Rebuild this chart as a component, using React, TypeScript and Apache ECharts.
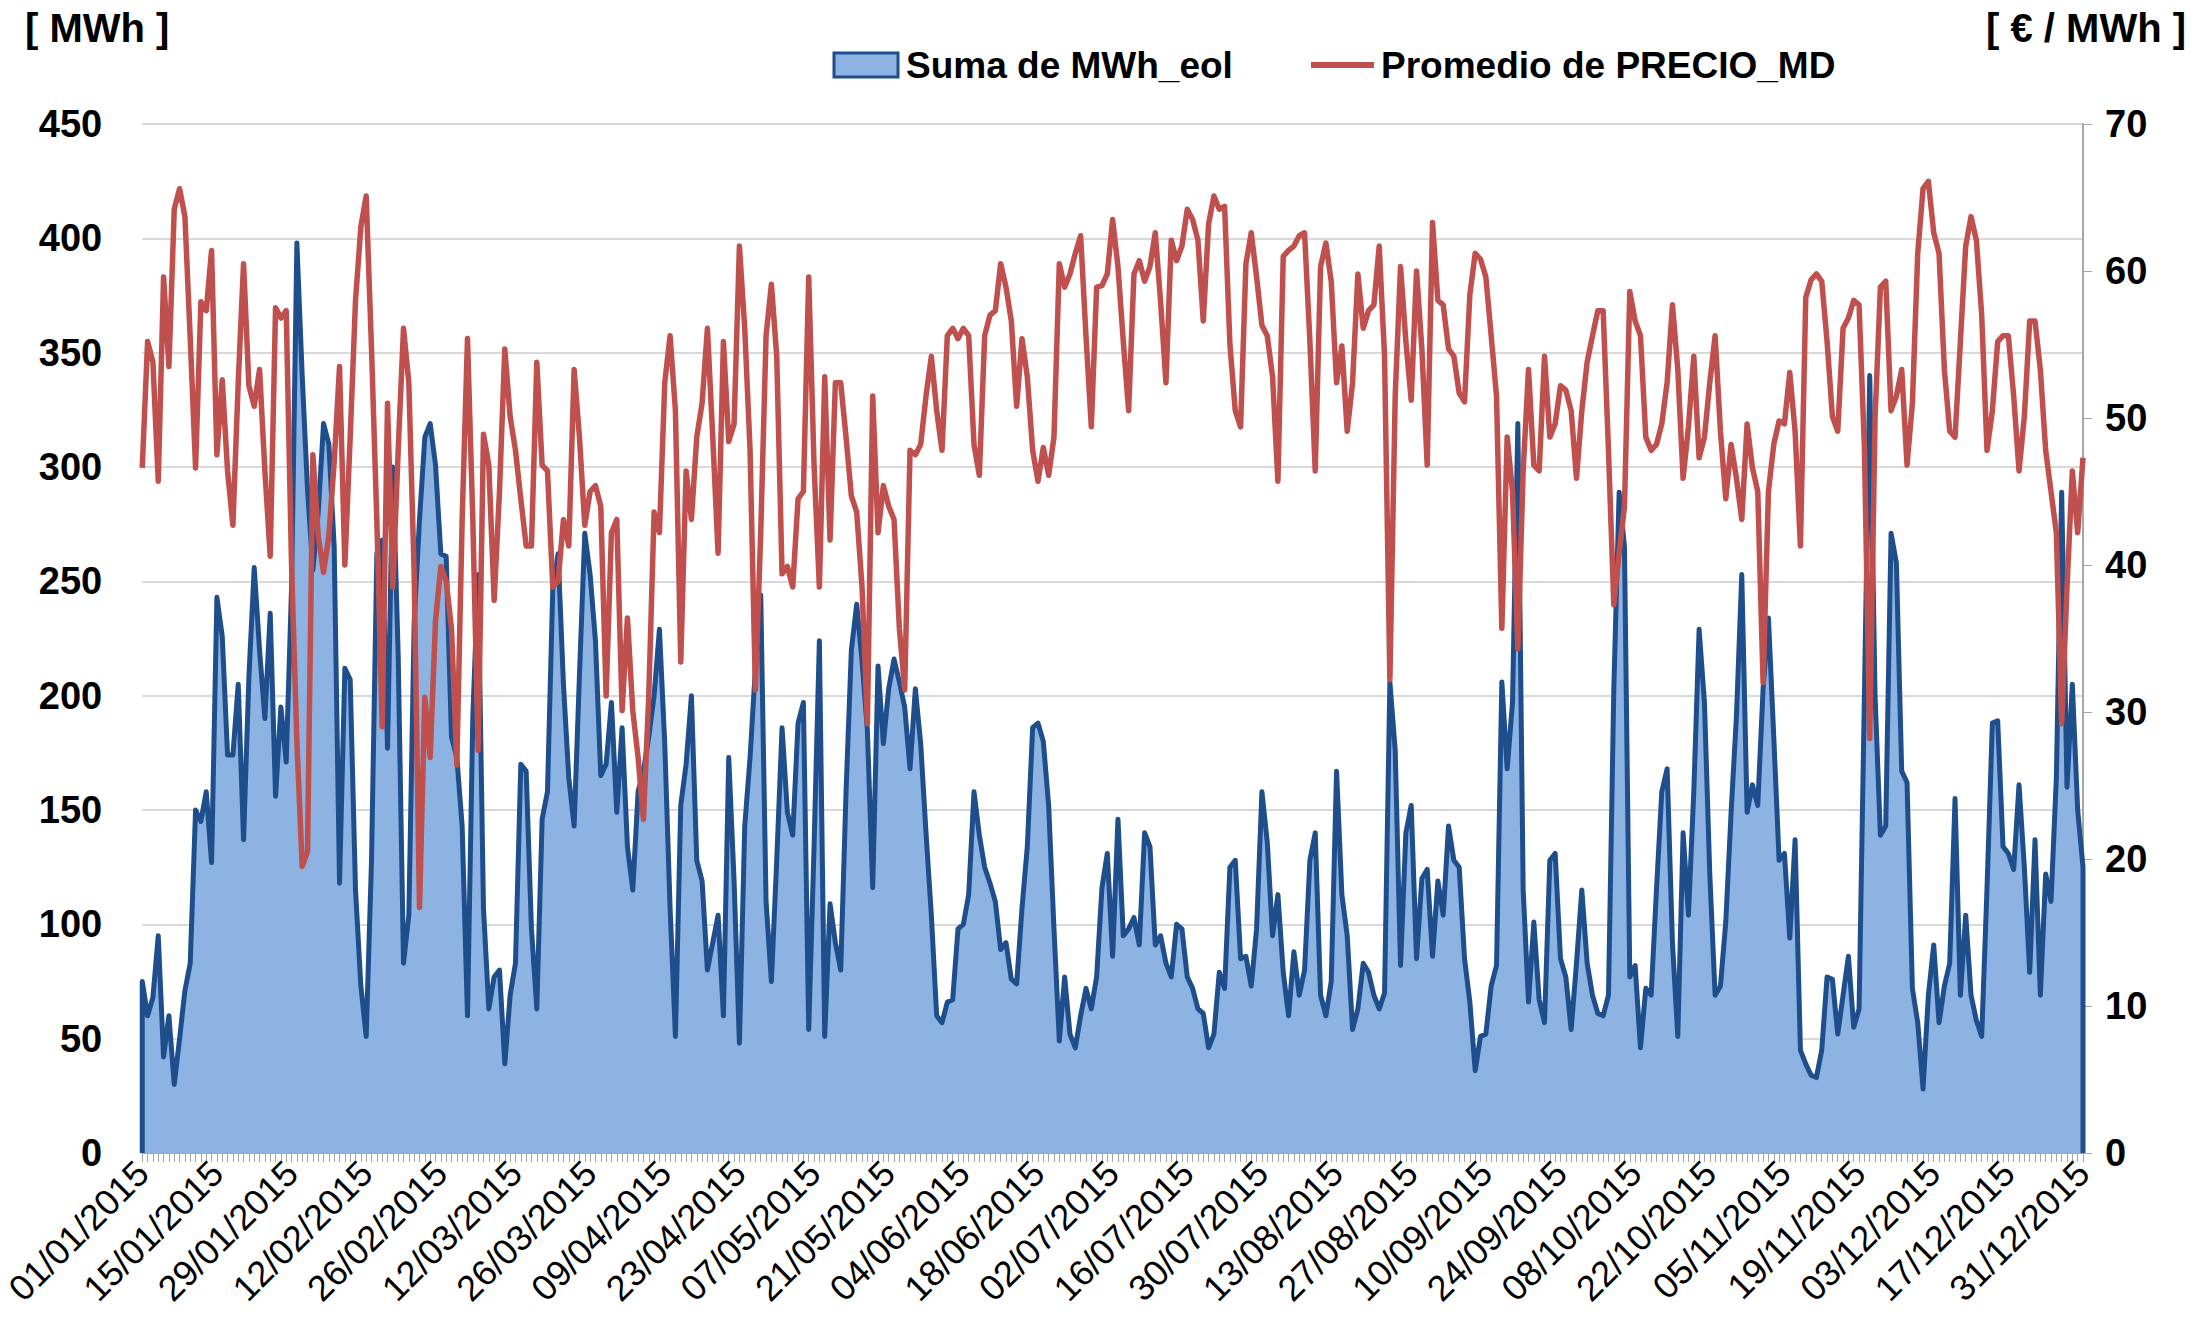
import React, { useEffect, useRef } from "react";
import * as echarts from "echarts";

const tickLabels = [
  "01/01/2015", "15/01/2015", "29/01/2015", "12/02/2015", "26/02/2015", "12/03/2015",
  "26/03/2015", "09/04/2015", "23/04/2015", "07/05/2015", "21/05/2015", "04/06/2015",
  "18/06/2015", "02/07/2015", "16/07/2015", "30/07/2015", "13/08/2015", "27/08/2015",
  "10/09/2015", "24/09/2015", "08/10/2015", "22/10/2015", "05/11/2015", "19/11/2015",
  "03/12/2015", "17/12/2015", "31/12/2015",
];

const mwhEol = [
  75, 60, 68, 95, 42, 60, 30, 50, 71, 83,
  150, 145, 158, 127, 243, 226, 174, 174, 205, 137,
  208, 256, 220, 190, 236, 156, 195, 171, 247, 398,
  340, 290, 255, 280, 319, 310, 265, 118, 212, 207,
  115, 73, 51, 128, 262, 268, 177, 300, 218, 83,
  104, 232, 277, 313, 319, 301, 262, 261, 182, 173,
  143, 60, 191, 253, 107, 63, 77, 80, 39, 69,
  83, 170, 167, 98, 63, 146, 158, 247, 262, 205,
  164, 143, 209, 271, 253, 224, 165, 170, 197, 149,
  186, 134, 115, 158, 167, 182, 200, 229, 179, 107,
  51, 152, 170, 200, 128, 119, 80, 92, 104, 60,
  173, 119, 48, 143, 173, 212, 244, 110, 75, 128,
  186, 149, 139, 188, 197, 54, 134, 224, 51, 109,
  92, 80, 158, 220, 240, 215, 185, 116, 213, 179,
  203, 216, 206, 195, 168, 203, 179, 140, 104, 60,
  57, 66, 67, 98, 100, 113, 158, 139, 125, 118,
  110, 89, 92, 76, 74, 107, 134, 186, 188, 180,
  152, 98, 49, 77, 52, 46, 60, 72, 63, 77,
  116, 131, 86, 146, 95, 98, 103, 91, 140, 134,
  91, 95, 83, 77, 100, 98, 77, 72, 63, 61,
  46, 52, 79, 72, 125, 128, 85, 86, 73, 98,
  158, 136, 95, 113, 79, 60, 88, 69, 80, 128,
  140, 69, 60, 75, 167, 113, 95, 54, 63, 83,
  79, 69, 63, 70, 206, 176, 82, 140, 152, 85,
  120, 124, 86, 119, 104, 143, 128, 125, 85, 66,
  36, 51, 52, 73, 82, 206, 168, 197, 319, 115,
  66, 101, 67, 57, 128, 131, 85, 77, 54, 83,
  115, 83, 69, 61, 60, 69, 203, 289, 265, 77,
  82, 46, 72, 69, 115, 158, 168, 92, 51, 140,
  104, 158, 229, 197, 122, 69, 73, 101, 149, 191,
  253, 149, 161, 152, 203, 234, 182, 128, 131, 94,
  137, 45, 39, 34, 33, 45, 77, 76, 52, 69,
  86, 55, 63, 200, 340, 200, 139, 143, 271, 258,
  167, 162, 72, 57, 28, 69, 91, 57, 73, 83,
  155, 69, 104, 69, 58, 51, 116, 188, 189, 134,
  131, 124, 161, 125, 79, 137, 69, 122, 110, 164,
  289, 160, 205, 150, 125,
];

const precioMD = [
  46.6, 55.2, 53.8, 45.7, 59.6, 53.5, 64.2, 65.6, 63.7, 55.4,
  46.6, 57.9, 57.3, 61.4, 47.5, 52.6, 46.4, 42.7, 52.4, 60.5,
  52.2, 50.8, 53.3, 46.4, 40.6, 57.5, 56.8, 57.3, 40, 28,
  19.5, 20.5, 47.5, 42, 39.5, 42, 47, 53.5, 40, 48.7,
  58, 63, 65.1, 54.7, 43, 29, 51, 38.5, 47.8, 56.1,
  52.4, 39.4, 16.7, 31, 26.9, 36.2, 39.9, 38.9, 35.7, 26.4,
  43.1, 55.4, 43.1, 27.4, 48.9, 46.8, 37.6, 45, 54.7, 50.1,
  47.8, 44.5, 41.3, 41.3, 53.8, 46.8, 46.4, 38.5, 38.9, 43.1,
  41.3, 53.3, 48.7, 42.7, 45, 45.4, 44, 31.1, 42.2, 43.1,
  30.1, 36.4, 30.1, 26.9, 22.7, 31.1, 43.6, 42.2, 52.4, 55.6,
  50.5, 33.4, 46.4, 43.1, 48.7, 51, 56.1, 48.7, 40.8, 55.2,
  48.4, 49.6, 61.7, 56.1, 47.8, 31.5, 42.2, 55.6, 59.1, 54.2,
  39.4, 39.9, 38.5, 44.5, 45, 59.6, 46.8, 38.5, 52.8, 41.7,
  52.4, 52.4, 48.7, 44.7, 43.6, 38.5, 29.2, 51.5, 42.2, 45.4,
  44, 43.1, 35.7, 31.5, 47.8, 47.5, 48.2, 51.5, 54.2, 50.5,
  47.8, 55.6, 56.1, 55.4, 56.1, 55.6, 48.2, 46.1, 55.6, 57,
  57.3, 60.5, 58.9, 56.6, 50.8, 55.4, 52.8, 47.8, 45.7, 48,
  46.1, 48.7, 60.5, 58.9, 59.8, 61.2, 62.4, 55.6, 49.4, 58.9,
  59, 59.8, 63.5, 60.3, 55.2, 50.5, 59.8, 60.7, 59.3, 60.3,
  62.6, 57.9, 52.4, 62.1, 60.7, 61.7, 64.2, 63.5, 62.1, 56.6,
  63.2, 65.1, 64.2, 64.4, 55, 50.5, 49.4, 60.5, 62.6, 59.6,
  56.3, 55.6, 52.8, 45.7, 61, 61.4, 61.7, 62.4, 62.6, 55.2,
  46.4, 60.3, 61.9, 59.3, 52.4, 54.9, 49.1, 52.4, 59.8, 56.1,
  57.3, 57.7, 61.7, 54.2, 32.2, 51.5, 60.3, 55.2, 51.2, 60,
  54.7, 46.8, 63.3, 58, 57.7, 54.7, 54.2, 51.7, 51.1, 58.4,
  61.2, 60.8, 59.6, 55.6, 51.5, 35.7, 48.7, 45, 34.3, 46.4,
  53.3, 46.8, 46.4, 54.2, 48.7, 49.6, 52.2, 51.9, 50.5, 45.9,
  50.5, 53.8, 55.6, 57.3, 57.3, 47.8, 37.3, 40.8, 44, 58.6,
  56.6, 55.6, 48.7, 47.8, 48.2, 49.6, 52.4, 57.7, 53.3, 45.9,
  49.4, 54.2, 47.3, 48.7, 52.4, 55.6, 49.1, 44.5, 48.2, 45.9,
  43.1, 49.6, 46.6, 45, 32, 45, 48.2, 49.8, 49.6, 53.1,
  49.1, 41.3, 58.2, 59.4, 59.8, 59.3, 55.2, 50.1, 49.1, 56.1,
  56.8, 58, 57.7, 48, 28.2, 50, 58.9, 59.3, 50.5, 51.5,
  53.3, 46.8, 51, 61.2, 65.6, 66.1, 62.6, 61.2, 53.3, 49.1,
  48.7, 55.2, 61.7, 63.7, 62.1, 57, 47.8, 50.5, 55.2, 55.6,
  55.6, 51.5, 46.4, 50.1, 56.6, 56.6, 53.3, 47.8, 45, 42.2,
  29.2, 38.5, 46.4, 42.2, 47.3,
];

const FONT = "'Liberation Sans', Arial, Helvetica, sans-serif";
const BLUE_FILL = "#8DB3E2";
const BLUE_LINE = "#1F4E8C";
const RED = "#C0504D";
const AXIS_GRAY = "#A6A6A6";

export default function App() {
  const ref = useRef<HTMLDivElement>(null);

  useEffect(() => {
    if (!ref.current) return;
    const chart = echarts.init(ref.current, null, { renderer: "svg" });
    const last = mwhEol.length - 1;
    const areaData = [[0, 0], ...mwhEol.map((v, i) => [i, v]), [last, 0]];
    const lineData = precioMD.map((v, i) => [i, v]);

    chart.setOption({
      animation: false,
      backgroundColor: "#ffffff",
      grid: { left: 141, right: 127, top: 124, bottom: 164, containLabel: false },
      xAxis: {
        type: "value",
        min: 0,
        max: last,
        interval: 14,
        axisLine: { show: true, lineStyle: { color: AXIS_GRAY, width: 2 } },
        axisTick: { show: true, length: 9, lineStyle: { color: AXIS_GRAY, width: 1 } },
        minorTick: { show: true, splitNumber: 14, length: 9, lineStyle: { color: AXIS_GRAY, width: 1 } },
        splitLine: { show: false },
        minorSplitLine: { show: false },
        axisLabel: {
          rotate: 45,
          margin: 14,
          fontSize: 36,
          color: "#000",
          fontFamily: FONT,
          formatter: (v: number) => tickLabels[Math.round(v / 14)] ?? "",
        },
      },
      yAxis: [
        {
          type: "value",
          min: 0,
          max: 450,
          interval: 50,
          axisLine: { show: false },
          axisTick: { show: false },
          splitLine: { show: true, lineStyle: { color: "#D9D9D9", width: 2 } },
          axisLabel: {
            margin: 40,
            fontSize: 38,
            fontWeight: "bold",
            color: "#000",
            fontFamily: FONT,
          },
        },
        {
          type: "value",
          position: "right",
          min: 0,
          max: 70,
          interval: 10,
          axisLine: { show: true, lineStyle: { color: AXIS_GRAY, width: 2 } },
          axisTick: { show: true, inside: false, length: 9, lineStyle: { color: AXIS_GRAY } },
          splitLine: { show: false },
          axisLabel: {
            margin: 22,
            fontSize: 38,
            fontWeight: "bold",
            color: "#000",
            fontFamily: FONT,
          },
        },
      ],
      series: [
        {
          name: "Suma de MWh_eol",
          type: "line",
          yAxisIndex: 0,
          data: areaData,
          symbol: "none",
          lineStyle: { color: BLUE_LINE, width: 5, join: "round" },
          areaStyle: { color: BLUE_FILL, opacity: 1 },
          z: 2,
        },
        {
          name: "Promedio de PRECIO_MD",
          type: "line",
          yAxisIndex: 1,
          data: lineData,
          symbol: "none",
          lineStyle: { color: RED, width: 5.5, join: "round" },
          z: 3,
        },
      ],
      graphic: [
        {
          type: "text",
          left: 25,
          top: 8,
          style: { text: "[ MWh ]", font: `bold 40px ${FONT}`, fill: "#000" },
        },
        {
          type: "text",
          right: 24,
          top: 8,
          style: { text: "[ € / MWh ]", font: `bold 40px ${FONT}`, fill: "#000" },
        },
        {
          type: "rect",
          shape: { x: 834, y: 53, width: 64, height: 24 },
          style: { fill: BLUE_FILL, stroke: BLUE_LINE, lineWidth: 3 },
        },
        {
          type: "text",
          x: 906,
          y: 65,
          style: {
            text: "Suma de MWh_eol",
            font: `bold 37px ${FONT}`,
            fill: "#000",
            verticalAlign: "middle",
            align: "left",
          },
        },
        {
          type: "line",
          shape: { x1: 1311, y1: 65, x2: 1374, y2: 65 },
          style: { stroke: RED, lineWidth: 6 },
        },
        {
          type: "text",
          x: 1381,
          y: 65,
          style: {
            text: "Promedio de PRECIO_MD",
            font: `bold 37px ${FONT}`,
            fill: "#000",
            verticalAlign: "middle",
            align: "left",
          },
        },
      ],
    });

    return () => chart.dispose();
  }, []);

  return (
    <div
      ref={ref}
      style={{ position: "fixed", left: 0, top: 0, width: 2210, height: 1317, background: "#fff" }}
    />
  );
}
